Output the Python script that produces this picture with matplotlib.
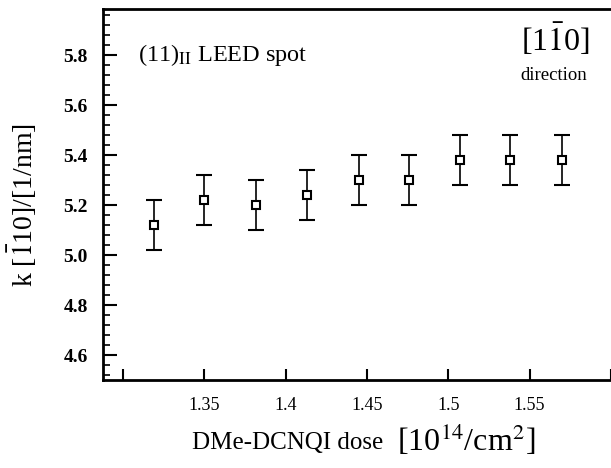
import matplotlib
matplotlib.use("Agg")
import matplotlib.pyplot as plt
from matplotlib.ticker import MultipleLocator, FixedLocator, FixedFormatter

plt.rcParams['font.family'] = ['Liberation Serif', 'DejaVu Serif']
plt.rcParams['mathtext.fontset'] = 'stix'

# dose in 10^14/cm^2 and k along [1-10] in 1/nm
dose = [1.319, 1.350, 1.382, 1.413, 1.445, 1.476, 1.507, 1.538, 1.570]
k_val = [5.12, 5.22, 5.20, 5.24, 5.30, 5.30, 5.38, 5.38, 5.38]
k_err = [0.10, 0.10, 0.10, 0.10, 0.10, 0.10, 0.10, 0.10, 0.10]

x_ticks = [1.30, 1.35, 1.40, 1.45, 1.50, 1.55, 1.60]
x_tick_labels = ["", "1.35", "1.4", "1.45", "1.5", "1.55", ""]
y_ticks = [4.6, 4.8, 5.0, 5.2, 5.4, 5.6, 5.8]

fig = plt.figure(figsize=(6.11, 4.68), dpi=100)
ax = fig.add_axes([103/611, 1 - 380/468, 1 - 103/611, (380 - 9)/468])

# error bars with open square markers
ax.errorbar(dose, k_val, yerr=k_err, fmt='s', color='black', ecolor='black',
            elinewidth=1.2, capsize=5.8, capthick=1.5,
            markersize=5.5, markerfacecolor='white', markeredgewidth=1.5)
# tiny dot in the middle of each square
ax.plot(dose, k_val, ',', color='black')

ax.set_xlim(1.2877, 1.6001)
ax.set_ylim(4.5, 5.984)

ax.xaxis.set_major_locator(FixedLocator(x_ticks))
ax.xaxis.set_major_formatter(FixedFormatter(x_tick_labels))
ax.yaxis.set_major_locator(FixedLocator(y_ticks))
ax.yaxis.set_minor_locator(MultipleLocator(0.04))
ax.set_yticklabels(["%.1f" % v for v in y_ticks], fontweight='bold')

ax.tick_params(axis='both', which='both', direction='in', color='black')
ax.tick_params(axis='x', which='major', length=8, width=1.5, pad=12, labelsize=13)
ax.tick_params(axis='y', which='major', length=10, width=1.5, pad=11, labelsize=14)
ax.tick_params(axis='y', which='minor', length=5, width=1.2)

ax.spines['right'].set_visible(False)
for s in ['left', 'bottom', 'top']:
    ax.spines[s].set_linewidth(2)

# annotations inside the plot
fig.text(138/611, 1 - 55/468, r"(11)$_{\mathrm{II}}$ LEED spot",
         fontsize=17.5, va='center', ha='left')
fig.text(555/611, 1 - 40/468, r"[1$\bar{1}$0]", fontsize=23, ha='center', va='center')
fig.text(554/611, 1 - 75/468, "direction", fontsize=13.5, ha='center', va='center')

# axis labels
fig.text(22/611, 1 - 205/468, r"k [$\bar{1}$10]/[1/nm]", rotation=90,
         fontsize=20, ha='center', va='center')
fig.text(192/611, 1 - 443/468, "DMe-DCNQI dose", fontsize=18, ha='left', va='center')
fig.text(397/611, 1 - 440/468, r"[10$^{14}$/cm$^{2}$]", fontsize=23, ha='left', va='center')

fig.savefig("out.png", dpi=100)
